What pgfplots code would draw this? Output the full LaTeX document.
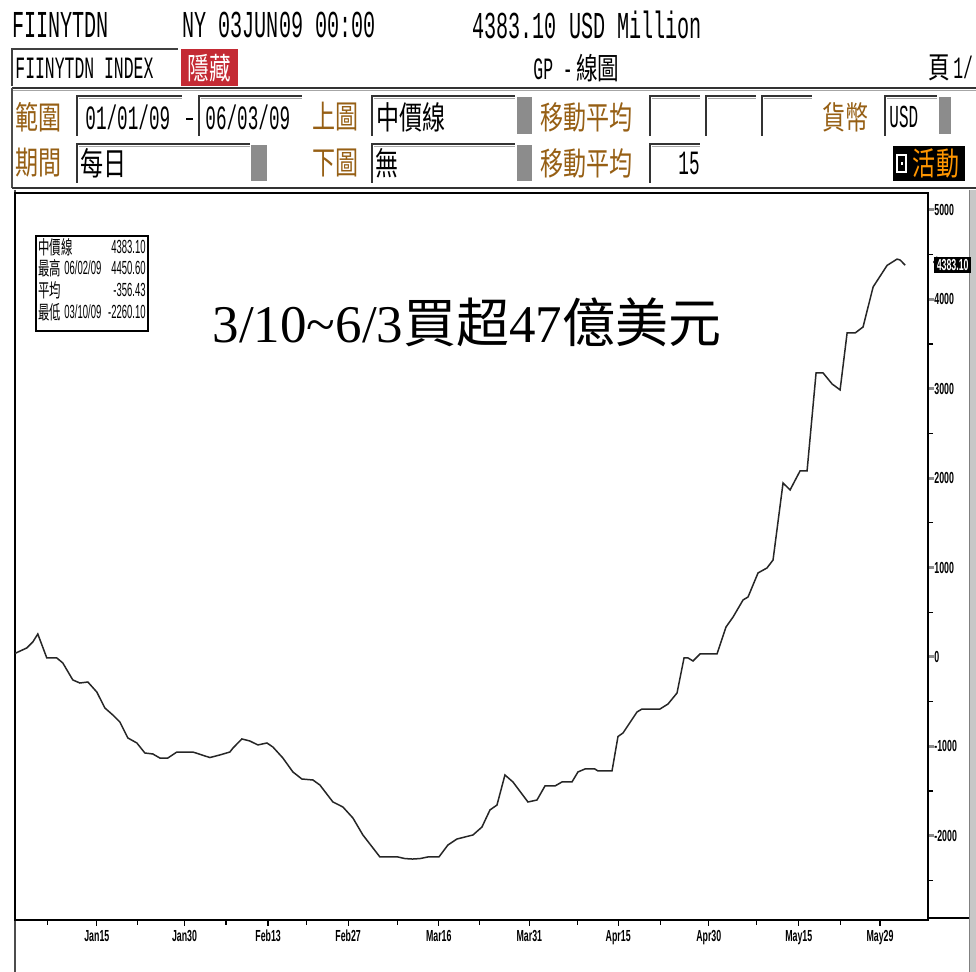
\documentclass[border=0pt]{standalone}
\usepackage{pgfplots}
\pgfplotsset{compat=1.18}
\usepackage{graphicx}
\usepackage{fontspec}
\setmainfont{Liberation Sans}
\newfontfamily\cjk{Noto Sans CJK TC}
\newfontfamily\serifT{Liberation Serif}
\newfontfamily\mono{Liberation Mono}
\definecolor{bbrown}{RGB}{150,95,20}
\definecolor{bred}{RGB}{196,42,52}
\definecolor{borange}{RGB}{255,150,0}
\newcommand{\hd}[3]{\scalebox{#1}[1]{\mono\fontsize{#2}{#2}\selectfont #3}}
\newcommand{\ck}[2][16]{\scalebox{0.72}[1]{\cjk\fontsize{#1}{#1}\selectfont #2}}
\newcommand{\tk}[1]{\scalebox{0.55}[1]{\bfseries\fontsize{8}{8}\selectfont #1}}
\newcommand{\lgd}[1]{\scalebox{0.5}[1]{\fontsize{9.5}{9.5}\selectfont #1}}
\newcommand{\lgc}[1]{\scalebox{0.6}[1]{\cjk\fontsize{9.5}{9.5}\selectfont #1}}
\newcommand{\ibox}[4]{\fill[white] (#1,#2) rectangle (#3,#4);
  \draw[line width=1.1pt,black!80] (#1,#4) -- (#1,#2) -- (#3,#2);
  \draw[line width=0.5pt,black!35] (#1+2,#2+2.5) -- (#3,#2+2.5);}
\pgfplotstableread{
day value
1.00 40
3.02 101
4.05 168
4.90 257
6.44 -11
8.15 -11
9.18 -67
10.89 -257
12.09 -291
13.46 -280
15.00 -392
16.37 -570
17.74 -649
18.94 -727
20.31 -906
21.85 -962
23.22 -1074
24.58 -1085
25.78 -1130
27.15 -1130
28.69 -1063
31.43 -1063
32.97 -1096
34.34 -1125
36.05 -1096
37.76 -1063
38.30 -1018
39.81 -917
41.19 -940
42.55 -984
44.10 -962
45.12 -1007
46.83 -1130
48.54 -1286
50.08 -1365
51.97 -1376
53.16 -1432
55.39 -1622
57.10 -1678
58.81 -1801
60.52 -1991
63.43 -2237
66.51 -2237
67.71 -2255
69.00 -2260.1
70.28 -2255
71.65 -2237
73.53 -2237
75.07 -2103
76.61 -2036
79.35 -1991
80.89 -1902
82.26 -1711
83.46 -1656
84.82 -1320
86.19 -1398
88.76 -1622
90.30 -1600
91.67 -1443
93.38 -1443
94.58 -1398
96.29 -1398
97.32 -1286
98.51 -1253
100.20 -1253
100.74 -1275
103.14 -1275
104.16 -890
105.02 -850
107.42 -615
108.27 -582
111.35 -582
112.72 -526
114.26 -403
115.46 -11
116.14 -11
117.00 -45
118.20 34
121.11 34
122.65 336
123.85 447
125.56 638
126.41 671
128.12 940
129.66 996
130.69 1085
132.40 1946
133.60 1868
135.31 2081
136.51 2081
138.05 3177
139.25 3177
140.79 3054
142.16 2987
143.36 3624
144.73 3624
146.09 3691
147.81 4139
150.20 4380
151.91 4450.6
152.43 4440
153.29 4383.1
}\fiidata
\begin{document}
\begin{tikzpicture}[x=0.5pt,y=-0.5pt]
\path[use as bounding box] (0,0) rectangle (976,972);
\fill[white] (0,0) rectangle (976,972);
% ---- header row 1
\node[anchor=west,inner sep=0] at (12,25) {\hd{0.53}{19}{FIINYTDN}};
\node[anchor=west,inner sep=0] at (182,25) {\hd{0.53}{19}{NY 03JUN09 00:00}};
\node[anchor=west,inner sep=0] at (472,25) {\hd{0.53}{19}{4383.10 USD Million}};
% ---- header row 2
\draw[line width=1pt,black!75] (12,86) -- (12,49) -- (178,49);
\node[anchor=west,inner sep=0] at (15,68) {\hd{0.53}{15.5}{FIINYTDN INDEX}};
\fill[bred] (181,49) rectangle (238,86);
\node[inner sep=0,text=white] at (209.5,68) {\ck[15]{隱藏}};
\node[anchor=west,inner sep=0] at (533,68) {\hd{0.53}{15.5}{GP -}\,\ck[15]{線圖}};
\node[anchor=west,inner sep=0] at (928,68) {\ck[15]{頁}\,\hd{0.53}{15.5}{1/}};
\draw[line width=1.2pt,black!80] (12,88) -- (976,88);
\draw[line width=0.5pt,black!35] (12,91) -- (976,91);
\draw[line width=0.8pt,black!70] (12,88) -- (12,188);
\draw[line width=1.2pt,black!80] (12,188) -- (976,188);
% ---- row 3
\node[anchor=west,inner sep=0,text=bbrown] at (15,117) {\ck{範圍}};
\ibox{77}{96}{182}{136}
\node[anchor=west,inner sep=0] at (85,117) {\hd{0.52}{17}{01/01/09}};
\draw[line width=1pt] (186,119) -- (193,119);
\ibox{199}{96}{302}{136}
\node[anchor=west,inner sep=0] at (205,117) {\hd{0.52}{17}{06/03/09}};
\node[anchor=west,inner sep=0,text=bbrown] at (312,117) {\ck{上圖}};
\ibox{372}{96}{515}{136}
\node[anchor=west,inner sep=0] at (376,117) {\ck{中價線}};
\fill[black!45] (517,97) rectangle (532,134);
\node[anchor=west,inner sep=0,text=bbrown] at (540,117) {\ck{移動平均}};
\ibox{650}{96}{700}{136}
\ibox{706}{96}{756}{136}
\ibox{762}{96}{812}{136}
\node[anchor=west,inner sep=0,text=bbrown] at (822,117) {\ck{貨幣}};
\ibox{885}{96}{937}{136}
\node[anchor=west,inner sep=0] at (889,117) {\hd{0.5}{16}{USD}};
\fill[black!45] (939,97) rectangle (951,134);
% ---- row 4
\node[anchor=west,inner sep=0,text=bbrown] at (15,163) {\ck{期間}};
\ibox{77}{144}{250}{183}
\node[anchor=west,inner sep=0] at (80,163) {\ck{每日}};
\fill[black!45] (251,145) rectangle (267,181);
\node[anchor=west,inner sep=0,text=bbrown] at (312,163) {\ck{下圖}};
\ibox{372}{144}{515}{183}
\node[anchor=west,inner sep=0] at (375,163) {\ck{無}};
\fill[black!45] (517,145) rectangle (532,181);
\node[anchor=west,inner sep=0,text=bbrown] at (540,163) {\ck{移動平均}};
\ibox{650}{144}{700}{183}
\node[anchor=west,inner sep=0] at (678,163) {\hd{0.52}{17}{15}};
\fill[black] (893,146) rectangle (965,181);
\draw[white,line width=0.6pt] (897,155) rectangle (906,172);
\fill[white] (900.5,162) rectangle (902.5,165);
\node[inner sep=0,text=borange] at (936,163) {\ck{活動}};
% ---- chart panel frame
\draw[line width=0.8pt,black!70] (15,190) -- (15,972);
\fill[black!22] (969,190) rectangle (976,972);
\draw[black!50,line width=0.4pt] (969,190) -- (969,972);
\draw[line width=0.6pt] (928,918) -- (969,918);
% ---- axis
\begin{axis}[
  at={(7.5pt,-460pt)}, anchor=south west,
  scale only axis, width=456.5pt, height=363.5pt,
  xmin=1, xmax=157.2, ymin=-2942, ymax=5190,
  axis line style={black, line width=0.6pt},
  clip mode=individual,
  xtick={15,30,44.3,58,73.5,89,104.2,119.7,135.1,149},
  xticklabels={\tk{Jan15},\tk{Jan30},\tk{Feb13},\tk{Feb27},\tk{Mar16},\tk{Mar31},\tk{Apr15},\tk{Apr30},\tk{May15},\tk{May29}},
  minor xtick={6.5,21.9,37.1,50.9,66.5,80.5,97.3,111.4,127.9,142.2},
  ytick={-2000,-1000,0,1000,2000,3000,4000,5000},
  yticklabels={\tk{-2000},\tk{-1000},\tk{0},\tk{1000},\tk{2000},\tk{3000},\tk{4000},\tk{5000}},
  minor ytick={-2500,-1500,-500,500,1500,2500,3500,4500},
  xtick pos=lower, ytick pos=right, yticklabel pos=right,
  tick align=outside,
  major tick length=3pt, minor tick length=2.5pt,
  x tick style={black, line width=0.6pt},
  y tick style={black!45, line width=1.5pt},
  minor y tick style={black, line width=0.6pt},
  xticklabel style={inner sep=1pt, yshift=-1pt},
  yticklabel style={inner sep=1pt, xshift=-1pt},
]
\addplot[black!85, line width=0.75pt] table[x=day,y=value] {\fiidata};
\node[fill=black, text=white, inner sep=1.2pt, anchor=west, xshift=3pt] (lab) at (axis cs:157.2,4383.1) {\tk{4383.10}};
\end{axis}
% ---- value pointer
\fill[black] (933,262) -- (937,256) -- (937,268) -- cycle;
% ---- legend box
\draw[fill=white, line width=0.8pt] (36,236) rectangle (148,331);
\node[anchor=west,inner sep=0] at (38,247) {\lgc{中價線}};
\node[anchor=east,inner sep=0] at (146,247) {\lgd{4383.10}};
\node[anchor=west,inner sep=0] at (38,268) {\lgc{最高}};
\node[anchor=west,inner sep=0] at (64,268) {\lgd{06/02/09}};
\node[anchor=east,inner sep=0] at (146,268) {\lgd{4450.60}};
\node[anchor=west,inner sep=0] at (38,290) {\lgc{平均}};
\node[anchor=east,inner sep=0] at (146,290) {\lgd{-356.43}};
\node[anchor=west,inner sep=0] at (38,312) {\lgc{最低}};
\node[anchor=west,inner sep=0] at (64,312) {\lgd{03/10/09}};
\node[anchor=east,inner sep=0] at (146,312) {\lgd{-2260.10}};
% ---- annotation
\node[inner sep=0] at (467,322) {\serifT\fontsize{26.5}{26.5}\selectfont 3/10\textasciitilde 6/3{\cjk 買超}47{\cjk 億美元}};
\end{tikzpicture}
\end{document}
